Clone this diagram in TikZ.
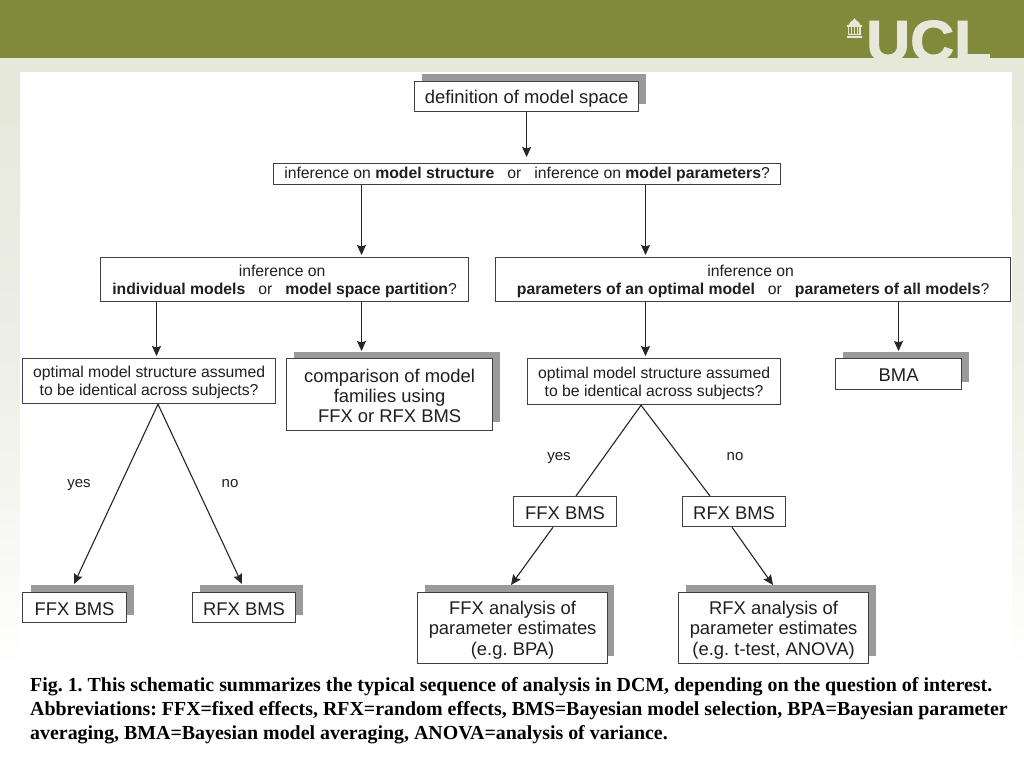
\documentclass[tikz,border=0pt]{standalone}
\usepackage{fontspec}
\setmainfont{Liberation Sans}
\newfontfamily\capfont{Liberation Serif}
\newfontfamily\logofont[BoldFeatures={FakeBold=1.6}]{Liberation Sans}
\usetikzlibrary{arrows.meta,calc}
\frenchspacing
\definecolor{olive}{HTML}{808A3A}
\definecolor{pale}{HTML}{E6E8DA}
\definecolor{shade}{HTML}{9A9A9A}
\definecolor{edge}{HTML}{404040}
\tikzset{
 box/.style={draw=edge,fill=white,line width=1.2pt,inner sep=0pt,align=center,text=black!88,anchor=north west,font=\fontsize{15.75}{18}\selectfont},
 bigbox/.style={box,font=\fontsize{18.4}{20.2}\selectfont},
 shadowbox/.style={fill=shade,draw=none},
 conn/.style={draw=black!85,line width=1.1pt,-{Stealth[length=10pt,width=9pt,inset=1.5pt]}},
 plain/.style={draw=black!85,line width=1.1pt},
 lab/.style={text=black!88,anchor=base,font=\fontsize{15}{16}\selectfont,inner sep=0pt},
 captext/.style={anchor=west,inner sep=0pt,text=black,font=\capfont\bfseries\fontsize{19.9}{24}\selectfont},
}
\newcommand{\bx}[6][box]{\node[#1,minimum width=#4pt,minimum height=#5pt] (#2) at #3 {#6};}
\newcommand{\dn}{\rule{0pt}{15pt}}
\newcommand{\dnb}[1]{\rule{0pt}{#1pt}}
\begin{document}
\begin{tikzpicture}[x=1pt,y=-1pt]
\useasboundingbox (0,0) rectangle (1024,768);
% background
\fill[white] (0,0) rectangle (1024,768);
\shade[top color=pale,bottom color=white,middle color=pale!70] (0,58) rectangle (1024,670);
\fill[olive] (0,0) rectangle (1024,58);
\fill[white] (20,72) rectangle (1012,665);
% logo
\node[anchor=base west,inner sep=0pt,text=pale,xscale=1.05,font=\logofont\bfseries\fontsize{58}{59}\selectfont] (ucl) at (866,61) {UCL};
\fill[pale] (847,38) rectangle (862,36) (848,35) rectangle (861,34);
\fill[pale] (847,27) rectangle (862,25) (849,25) .. controls (849,21) and (853,22) .. (854.5,18) .. controls (856,22) and (860,21) .. (860,25) -- cycle;
\foreach \i in {848.5,851.5,854.5,857.5,860}{\fill[pale] (\i-0.8,27) rectangle (\i+0.8,34);}
% shadows
\fill[shadowbox] (422,74) rectangle (646,104);
\fill[shadowbox] (294,352) rectangle (500,422);
\fill[shadowbox] (843,352) rectangle (969,382);
\fill[shadowbox] (31,585) rectangle (134,615);
\fill[shadowbox] (200,585) rectangle (303,615);
\fill[shadowbox] (425,585) rectangle (614,656);
\fill[shadowbox] (686,585) rectangle (876,656);
% boxes
\bx[bigbox]{def}{(414,81)}{224}{30}{\dnb{18}definition of model space}
\bx{main}{(273,163)}{507}{21}{inference on \textbf{model structure}\hspace{13pt}or\hspace{13pt}inference on \textbf{model parameters}?}
\bx{ind}{(100,257)}{368}{44}{\dn inference on\kern5pt\\\textbf{individual models}\hspace{13pt}or\hspace{13pt}\textbf{model space partition}?}
\bx{par}{(495,257)}{515}{44}{\dn inference on\kern5pt\\\textbf{parameters of an optimal model}\hspace{13pt}or\hspace{13pt}\textbf{parameters of all models}?}
\bx{optA}{(22,358)}{253}{45}{\dn optimal model structure assumed\\to be identical across subjects?}
\bx[bigbox]{comp}{(286,358)}{206}{72}{\dnb{16}comparison of model\\families using\\FFX or RFX BMS}
\bx{optB}{(527,358)}{253}{46}{\dn optimal model structure assumed\\to be identical across subjects?}
\bx[bigbox]{bma}{(835,358)}{126}{31}{\dnb{15}BMA}
\bx[bigbox]{ffxA}{(22,592)}{104}{30}{\dnb{15.5}FFX BMS}
\bx[bigbox]{rfxA}{(192,592)}{103}{30}{\dnb{15.5}RFX BMS}
\bx[bigbox]{ffxB}{(513,496)}{103}{30}{\dnb{15.5}FFX BMS}
\bx[bigbox]{rfxB}{(682,496)}{103}{30}{\dnb{15.5}RFX BMS}
\bx[bigbox]{ffxC}{(417,592)}{190}{71}{\dnb{17.5}FFX analysis of\\parameter estimates\\(e.g. BPA)}
\bx[bigbox]{rfxC}{(678,592)}{190}{71}{\dnb{17.5}RFX analysis of\\parameter estimates\\(e.g. t-test, ANOVA)}
% connectors
\draw[conn] (def.south) -- ([yshift=6pt]main.north -| def.south);
\draw[conn] ([xshift=88.5pt]main.south west) -- ([xshift=261.5pt,yshift=2pt]ind.north west);
\draw[conn] ([xshift=372.5pt]main.south west) -- ([xshift=150.5pt,yshift=2pt]par.north west);
\draw[conn] ([xshift=56.5pt]ind.south west) -- ([xshift=134.5pt,yshift=2pt]optA.north west);
\draw[conn] ([xshift=261.5pt]ind.south west) -- ([xshift=75.5pt,yshift=7pt]comp.north west);
\draw[conn] ([xshift=150.5pt]par.south west) -- ([xshift=118.5pt,yshift=2pt]optB.north west);
\draw[conn] ([xshift=403.5pt]par.south west) -- ([xshift=63.5pt,yshift=7pt]bma.north west);
\draw[conn] ([xshift=136pt]optA.south west) -- ([xshift=52pt,yshift=8pt]ffxA.north west);
\draw[conn] ([xshift=136pt]optA.south west) -- ([xshift=50pt,yshift=8pt]rfxA.north west);
\draw[plain] ([xshift=114pt]optB.south west) -- ([xshift=63pt]ffxB.north west);
\draw[plain] ([xshift=114pt]optB.south west) -- ([xshift=28pt]rfxB.north west);
\draw[conn] ([xshift=40pt]ffxB.south west) -- ([xshift=94pt,yshift=7pt]ffxC.north west);
\draw[conn] ([xshift=50pt]rfxB.south west) -- ([xshift=95pt,yshift=7pt]rfxC.north west);
% labels
\node[lab] (yesA) at (79,487) {yes};
\node[lab] (noA) at (230,487) {no};
\node[lab] (yesB) at (559,460) {yes};
\node[lab] (noB) at (735,460) {no};
% caption
\node[captext] (capA) at (30,687) {Fig. 1. This schematic summarizes the typical sequence of analysis in DCM, depending on the question of interest.};
\node[captext] (capB) at (30,711) {Abbreviations: FFX=fixed effects, RFX=random effects, BMS=Bayesian model selection, BPA=Bayesian parameter};
\node[captext] (capC) at (30,735) {averaging, BMA=Bayesian model averaging, ANOVA=analysis of variance.};
\end{tikzpicture}
\end{document}
